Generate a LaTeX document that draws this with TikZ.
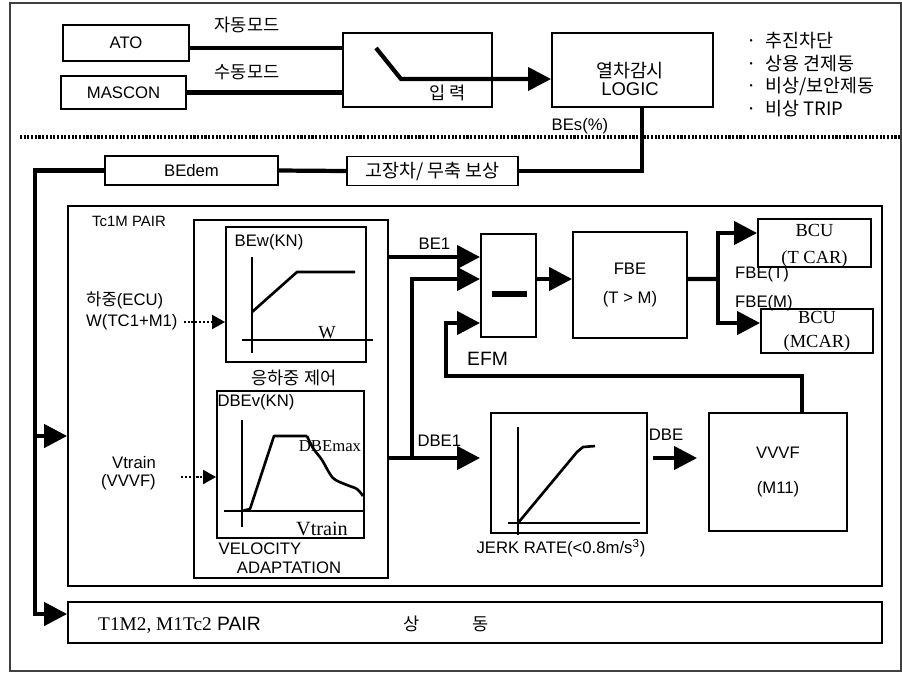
\documentclass[tikz,border=0pt]{standalone}
\usepackage{fontspec}
\setmainfont{Liberation Sans}
\newfontfamily\kr{Noto Sans CJK KR}
\newfontfamily\serifrm{Liberation Serif}
\usetikzlibrary{arrows.meta, positioning, calc}

\begin{document}
\begin{tikzpicture}[
    x=0.02cm, y=-0.02cm,
    font=\fontsize{9.5}{11}\selectfont,
    % Standard Block Style
    block/.style={draw=black, rectangle, line width=1.1pt, inner sep=0pt, align=center},
    % Thick Signal Line
    wire/.style={line width=2.4pt},
    sig/.style={wire, -{Triangle[length=0.46cm, width=0.46cm]}},
    % Dotted Measurement Input
    dotin/.style={line width=1.2pt, densely dotted, -{Triangle[length=0.26cm, width=0.28cm]}},
    % Characteristic Curves
    axis/.style={line width=1.1pt},
    curve/.style={line width=1.5pt, line join=round},
    hangul/.style={font=\kr\fontsize{10}{12}\selectfont},
    serifnum/.style={font=\serifrm\fontsize{10.5}{12}\selectfont}
]
\useasboundingbox (0,0) rectangle (902,674);
\draw[line width=0.6pt, black!75] (10,3) rectangle (901,671);
\draw[line width=1.8pt, dash pattern=on 1.2pt off 0.9pt] (20,137) -- (901,137);

% ================= Nodes =================

% 1. Mode Selection (Top Row)
\node[block, minimum width=2.52cm, minimum height=0.72cm] (ato) at (126,43) {ATO};
\node[block, minimum width=2.5cm, minimum height=0.66cm] (mascon) at (123.5,92.5) {MASCON};
\node[hangul] (automode) at (247,25) {자동모드};
\node[hangul] (manmode) at (247,72) {수동모드};
\node[block, minimum width=2.98cm, minimum height=1.48cm] (sw) at (417.5,70) {};
\node[hangul] (swlab) at (448,93) {입 력};
\node[block, minimum width=3.22cm, minimum height=1.48cm] (logic) at (632.5,70) {};
\node[align=center, font=\fontsize{10.5}{10}\selectfont] (logictxt) at (630,79) {{\kr 열차감시}\\LOGIC};
\node[anchor=north west, align=left, font=\kr\fontsize{10.5}{12.9}\selectfont] (modes) at (740,26)
    {\makebox[0.38cm][l]{·}추진차단\\\makebox[0.38cm][l]{·}상용 견제동\\\makebox[0.38cm][l]{·}비상/보안제동\\\makebox[0.38cm][l]{·}비상 TRIP};
\node (bes) at (580,126) {BEs(\%)};

% 2. Demand Path
\node[block, minimum width=3.46cm, minimum height=0.58cm] (bedem) at (191.5,170.5) {BEdem};
\node[block, minimum width=3.42cm, minimum height=0.58cm, hangul, font=\kr\fontsize{10.5}{12}\selectfont] (comp) at (432.5,171) {고장차/ 무축 보상};

% 3. Tc1M Pair
\node[block, minimum width=16.28cm, minimum height=7.6cm] (pair) at (475,396) {};
\node[anchor=west, font=\fontsize{8.5}{10}\selectfont] (pairlab) at (86,221) {Tc1M PAIR};
\node[block, minimum width=3.88cm, minimum height=7.16cm] (load) at (291,399) {};
\node[block, minimum width=2.8cm, minimum height=2.7cm] (bew) at (296,294.5) {};
\node[block, minimum width=2.94cm, minimum height=2.94cm] (dbev) at (290.5,464.5) {};
\node (bewlab) at (269,242) {BEw(KN)};
\node[serifnum] (wlab) at (327,333) {W};
\node[hangul] (loadlab) at (294,378) {응하중 제어};
\node (dbevlab) at (256,402) {DBEv(KN)};
\node[font=\serifrm\fontsize{9.5}{10}\selectfont] (maxlab) at (330,446) {DBEmax};
\node[serifnum, font=\serifrm\fontsize{11.5}{12}\selectfont] (vlab) at (322,529) {Vtrain};
\node (vel) at (260,549) {VELOCITY};
\node (adapt) at (289,568) {ADAPTATION};

% Measurement inputs
\node[anchor=west] (ecu) at (80,300) {{\kr 하중}(ECU)};
\node[anchor=west] (wload) at (80,322) {W(TC1+M1)};
\node[anchor=east, align=right, font=\fontsize{9.5}{10.3}\selectfont] (vin) at (162,473) {Vtrain\\(VVVF)};

% Force distribution
\node[block, minimum width=1.1cm, minimum height=2.06cm] (efm) at (508.5,285.5) {};
\node[below=0.16cm of efm, xshift=-0.42cm, font=\fontsize{11}{12}\selectfont] (efmlab) {EFM};
\node[block, minimum width=2.28cm, minimum height=2.12cm] (fbe) at (630,285) {FBE\\[6pt](T > M)};
\node[block, minimum width=2.26cm, minimum height=0.96cm, serifnum] (bcut) at (814.5,243) {\\[-2pt]BCU\\[3pt](T CAR)};
\node[block, minimum width=2.24cm, minimum height=0.88cm, serifnum] (bcum) at (817,331) {BCU\\[1.5pt](MCAR)};
\node[anchor=west] (fbet) at (729,274) {FBE(T)};
\node[anchor=west] (fbem) at (729,303) {FBE(M)};

% Electric brake path
\node[block, minimum width=3.12cm, minimum height=2.4cm] (jerk) at (569,473) {};
\node (jerklab) at (561,548) {JERK RATE(<0.8m/s\textsuperscript{3})};
\node[block, minimum width=2.76cm, minimum height=2.36cm] (vvvf) at (778,472) {VVVF\\[9pt](M11)};

% 4. Other Pairs (Bottom Row)
\node[block, minimum width=16.28cm, minimum height=0.82cm] (other) at (475,622.5) {};
\node[anchor=west, font=\fontsize{11}{12}\selectfont] (otherlab) at (92,625) {{\serifrm T1M2, M1Tc2} PAIR};
\node[hangul] (samelab) at (446,624) {상\hspace{1.05cm}동};

% ================= Curves =================
\draw[axis] (252,257) -- (252,353);
\draw[axis] (242,340) -- (373,340);
\draw[curve] (252,312) -- (297,272) -- (355,272);

\draw[axis] (242,420) -- (242,527);
\draw[axis] (224,511) -- (363,511);
\draw[curve] (242,511) -- (250,509) -- (274,436) -- (307,436)
    plot[smooth] coordinates {(307,436) (313,448) (322,460) (333,478) (347,485) (357,489) (363,496)};

\draw[axis] (518,427) -- (518,535);
\draw[axis] (508,523) -- (640,523);
\draw[curve] (518,523) -- (577,452) -- (583,447) -- (595,446);

\draw[line width=3pt] (492,294) -- (527,294);

% ================= Connections =================

% Mode switch
\draw[wire] ([yshift=-0.1cm]ato.east) -- ([yshift=-0.1cm]ato.east -| sw.west);
\draw[wire] (mascon.east) -- (mascon.east -| sw.west);
\coordinate (lvA) at (376,48);
\coordinate (lvB) at (401,79);
\draw[sig] (lvA) -- (lvB) -- (lvB -| logic.west);

% BEs demand to the pairs
\draw[wire] ([xshift=0.19cm]logic.south) |- (comp.east);
\draw[wire] (comp.west) -- (bedem.east);
\coordinate (busA) at (35,436);
\coordinate (busB) at (35,614);
\draw[sig] (bedem.west) -| (busB) -- (busB -| other.west);
\draw[sig] (busA) -- (busA -| pair.west);

% Measurement inputs
\draw[dotin] (wload.east) -- (wload.east -| bew.west);
\draw[dotin, shorten <=0.38cm] ([yshift=-0.08cm]vin.east) -- ([yshift=-0.08cm]vin.east -| dbev.west);

% EFM inputs
\coordinate (efm1) at ([yshift=0.57cm]efm.west);
\coordinate (efm2) at ([yshift=0.13cm]efm.west);
\coordinate (efm3) at ([yshift=-0.75cm]efm.west);
\coordinate (dbe1) at (412,458);
\coordinate (fb) at (446,376);
\draw[sig] (efm1 -| load.east) -- node[above] {BE1} (efm1);
\draw[wire] (dbe1 -| load.east) -- (dbe1);
\draw[sig] (dbe1) |- (efm2);
\draw[sig, shorten >=0.2cm] (dbe1) -- node[above, pos=0.35, yshift=0.08cm] {DBE1} (dbe1 -| jerk.west);
\draw[sig, shorten <=0.1cm, shorten >=0.22cm] (jerk.east |- dbe1) -- node[above, pos=0.3, yshift=0.2cm] {DBE} (vvvf.west |- dbe1);
\draw[sig] ([xshift=0.48cm]vvvf.north) |- (fb) |- (efm3);

% FBE distribution
\coordinate (split) at (718,279);
\draw[sig] (efm2 -| efm.east) -- (efm2 -| fbe.west);
\draw[wire] (efm2 -| fbe.east) -- (split);
\draw[sig] (split) |- ([yshift=0.2cm]bcut.west);
\draw[sig] (split) |- ([yshift=0.16cm]bcum.west);

\end{tikzpicture}
\end{document}
